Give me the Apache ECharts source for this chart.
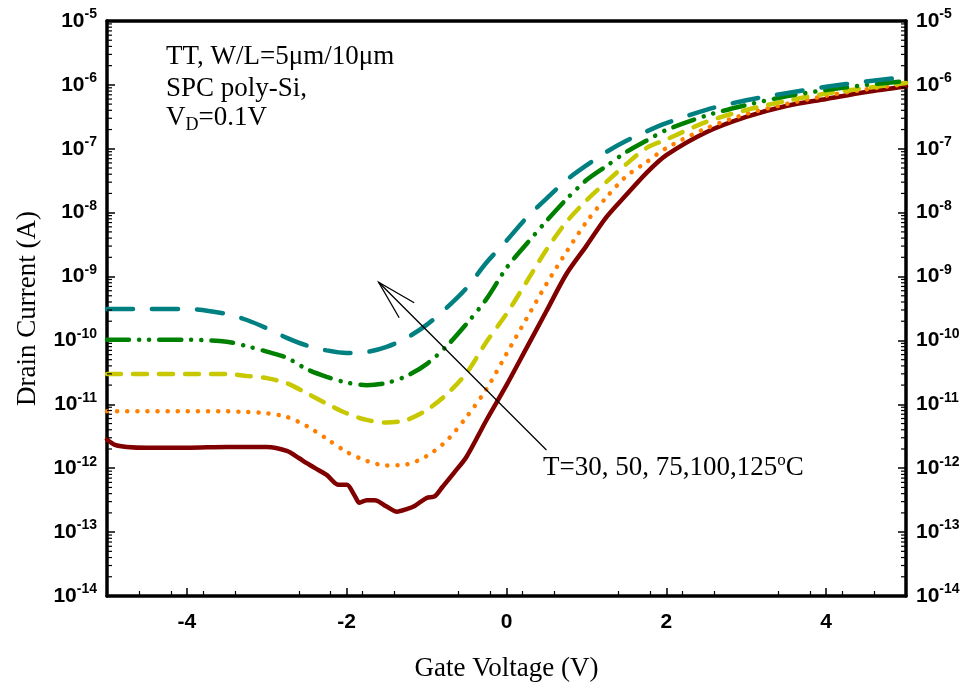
<!DOCTYPE html>
<html>
<head>
<meta charset="utf-8">
<script src="https://cdn.jsdelivr.net/npm/echarts@6/dist/echarts.min.js"></script>
<style>html,body{margin:0;padding:0;background:#fff;}#c{width:971px;height:688px;}</style>
</head>
<body>
<div id="c"></div>
<script>
// Gate voltage samples (V)
const gateV = [-5,-4.5,-4,-3.5,-3.25,-3,-2.75,-2.5,-2.25,-2,-1.75,-1.5,-1.25,-1,-0.75,-0.5,-0.25,0,0.25,0.5,0.75,1,1.25,1.5,1.75,2,2.5,3,3.5,4,4.5,5];
// log10 of drain current (A)
const log10I_125 = [-9.507,-9.507,-9.507,-9.585,-9.68,-9.81,-9.96,-10.08,-10.156,-10.196,-10.18,-10.10,-9.96,-9.757,-9.49,-9.18,-8.78,-8.44,-8.08,-7.78,-7.49,-7.26,-7.05,-6.875,-6.73,-6.60,-6.39,-6.24,-6.13,-6.03,-5.947,-5.876];
const log10I_100 = [-9.99,-9.99,-9.99,-10.02,-10.09,-10.175,-10.27,-10.45,-10.57,-10.66,-10.70,-10.665,-10.556,-10.37,-10.09,-9.74,-9.35,-8.865,-8.49,-8.13,-7.79,-7.49,-7.27,-7.05,-6.875,-6.706,-6.48,-6.315,-6.18,-6.08,-6.00,-5.94];
const log10I_75 = [-10.524,-10.524,-10.524,-10.524,-10.556,-10.59,-10.67,-10.826,-10.99,-11.14,-11.244,-11.286,-11.244,-11.09,-10.845,-10.51,-10.02,-9.585,-9.085,-8.58,-8.146,-7.81,-7.52,-7.24,-6.99,-6.855,-6.58,-6.393,-6.252,-6.135,-6.05,-5.97];
const log10I_50 = [-11.11,-11.11,-11.11,-11.11,-11.12,-11.14,-11.197,-11.34,-11.54,-11.745,-11.886,-11.956,-11.94,-11.81,-11.57,-11.197,-10.76,-10.21,-9.66,-9.116,-8.615,-8.146,-7.76,-7.43,-7.21,-6.99,-6.68,-6.455,-6.30,-6.17,-6.07,-5.986];
// 30 C curve has its own (denser) gate voltage samples
const gateV_30 = [-5,-4.9,-4.75,-4.5,-4,-3.5,-3,-2.75,-2.6,-2.5,-2.4,-2.25,-2.1,-2.0,-1.9,-1.84,-1.75,-1.65,-1.5,-1.37,-1.25,-1.15,-1.0,-0.9,-0.8,-0.65,-0.5,-0.25,0,0.25,0.5,0.75,1,1.25,1.5,1.75,2,2.5,3,3.5,4,4.5,5];
const log10I_30 = [-11.55,-11.635,-11.667,-11.68,-11.68,-11.667,-11.667,-11.73,-11.84,-11.92,-11.995,-12.105,-12.26,-12.26,-12.43,-12.54,-12.50,-12.50,-12.60,-12.68,-12.64,-12.59,-12.465,-12.44,-12.29,-12.06,-11.82,-11.245,-10.70,-10.12,-9.54,-8.96,-8.52,-8.07,-7.72,-7.38,-7.10,-6.74,-6.50,-6.33,-6.22,-6.11,-6.025];

const xTicks = [-4, -2, 0, 2, 4];
const yMinExp = -14, yMaxExp = -5;
// annotation arrow (data coordinates): tail -> head
const arrowTail = [0.50, -11.714];
const arrowHead = [-1.60, -9.089];

const serif = '"Liberation Serif","Times New Roman",serif';
const sans = '"Liberation Sans",Arial,sans-serif';

function pts(xs, ls) { return xs.map((x, i) => [x, Math.pow(10, ls[i])]); }

// minor log ticks at 2..9 within each decade
const minorVals = [];
for (let e = yMinExp; e < yMaxExp; e++) for (let k = 2; k <= 9; k++) minorVals.push([-5, k * Math.pow(10, e)]);

const expLabel = v => {
  const e = Math.round(Math.log10(v));
  return '{b|10}{e|' + e + '}';
};
const labelRich = {
  b: { fontFamily: sans, fontWeight: 'bold', fontSize: 21, color: '#000' },
  e: { fontFamily: sans, fontWeight: 'bold', fontSize: 14, color: '#000', padding: [0, 0, 13, 0] }
};

const chart = echarts.init(document.getElementById('c'), null, { renderer: 'canvas' });

const base = { type: 'line', symbol: 'none', smooth: 0.3, z: 3 };
const option = {
  animation: false,
  backgroundColor: '#fff',
  grid: { left: 107, right: 65, top: 21, bottom: 92 },
  xAxis: [{
    type: 'value', min: -5, max: 5, interval: 2,
    name: 'Gate Voltage (V)', nameLocation: 'middle', nameGap: 59,
    nameTextStyle: { fontFamily: serif, fontSize: 27, color: '#000' },
    axisLine: { show: true, onZero: false, lineStyle: { color: '#000', width: 3.5 } },
    axisTick: { show: true, inside: true, length: 8, lineStyle: { color: '#000', width: 1.5 }, customValues: xTicks },
    minorTick: { show: true, splitNumber: 5, length: 5, lineStyle: { color: '#000', width: 1.2 } },
    axisLabel: { margin: 16, fontFamily: sans, fontWeight: 'bold', fontSize: 21, color: '#000', customValues: xTicks },
    splitLine: { show: false }, minorSplitLine: { show: false }
  }, {
    type: 'value', min: -5, max: 5, position: 'top',
    axisLine: { show: true, onZero: false, lineStyle: { color: '#000', width: 3.5 } },
    axisTick: { show: false }, axisLabel: { show: false }, splitLine: { show: false }
  }],
  yAxis: [{
    type: 'log', logBase: 10, min: Math.pow(10, yMinExp), max: Math.pow(10, yMaxExp), splitNumber: 9,
    name: 'Drain Current (A)', nameLocation: 'middle', nameGap: 66, nameRotate: 90,
    nameTextStyle: { fontFamily: serif, fontSize: 27, color: '#000' },
    axisLine: { show: true, onZero: false, lineStyle: { color: '#000', width: 3.5 } },
    axisTick: { show: true, inside: true, length: 8, lineStyle: { color: '#000', width: 1.5 } },
    axisLabel: { margin: 10, formatter: expLabel, rich: labelRich },
    splitLine: { show: false }
  }, {
    type: 'log', logBase: 10, min: Math.pow(10, yMinExp), max: Math.pow(10, yMaxExp), splitNumber: 9, position: 'right',
    axisLine: { show: true, onZero: false, lineStyle: { color: '#000', width: 3.5 } },
    axisTick: { show: true, inside: true, length: 8, lineStyle: { color: '#000', width: 1.5 } },
    axisLabel: { margin: 10, formatter: expLabel, rich: labelRich },
    splitLine: { show: false }
  }],
  series: [
    Object.assign({}, base, { name: '30', data: pts(gateV_30, log10I_30), lineStyle: { color: '#800000', width: 4.5, cap: 'round', join: 'round' } }),
    Object.assign({}, base, { name: '50', data: pts(gateV, log10I_50), lineStyle: { color: '#ff8000', width: 4.5, type: [0.1, 10], cap: 'round' } }),
    Object.assign({}, base, { name: '75', data: pts(gateV, log10I_75), lineStyle: { color: '#c8c800', width: 4.5, type: [14, 12], cap: 'round' } }),
    Object.assign({}, base, { name: '100', data: pts(gateV, log10I_100), lineStyle: { color: '#008000', width: 4.5, type: [22, 10, 0.1, 10, 0.1, 10], cap: 'round' } }),
    Object.assign({}, base, { name: '125', data: pts(gateV, log10I_125), lineStyle: { color: '#008080', width: 4.5, type: [26, 19], cap: 'round' } }),
    {
      type: 'custom', silent: true, clip: false, z: 5,
      data: minorVals,
      encode: { x: 0, y: 1 },
      renderItem: function (params, api) {
        const v = api.value(1);
        const pl = api.coord([-5, v]);
        const pr = api.coord([5, v]);
        return {
          type: 'group', children: [
            { type: 'line', shape: { x1: pl[0], y1: pl[1], x2: pl[0] + 5, y2: pl[1] }, style: { stroke: '#000', lineWidth: 1.2 } },
            { type: 'line', shape: { x1: pr[0], y1: pr[1], x2: pr[0] - 5, y2: pr[1] }, style: { stroke: '#000', lineWidth: 1.2 } }
          ]
        };
      }
    }
  ]
};
chart.setOption(option);

// annotation graphics
const h = chart.convertToPixel({ gridIndex: 0 }, [arrowHead[0], Math.pow(10, arrowHead[1])]);
const t = chart.convertToPixel({ gridIndex: 0 }, [arrowTail[0], Math.pow(10, arrowTail[1])]);
const dx = t[0] - h[0], dy = t[1] - h[1];
const L = Math.sqrt(dx * dx + dy * dy);
const ux = dx / L, uy = dy / L;
const barb = 41, ang = 15 * Math.PI / 180;
function rot(a) { return [h[0] + barb * (ux * Math.cos(a) - uy * Math.sin(a)), h[1] + barb * (ux * Math.sin(a) + uy * Math.cos(a))]; }
const b1 = rot(ang), b2 = rot(-ang);

const txt = { fontFamily: serif, fontSize: 27, color: '#000' };
chart.setOption({
  graphic: [
    { type: 'line', shape: { x1: t[0], y1: t[1], x2: h[0], y2: h[1] }, style: { stroke: '#000', lineWidth: 1.3 }, z: 10 },
    { type: 'polyline', shape: { points: [b1, h, b2] }, style: { stroke: '#000', lineWidth: 1.3, fill: null }, z: 10 },
    { type: 'text', x: 166, y: 57, style: { text: 'TT, W/L=5\u03bcm/10\u03bcm', font: '27px ' + serif, fill: '#000', verticalAlign: 'middle' }, z: 10 },
    { type: 'text', x: 166, y: 89, style: { text: 'SPC poly-Si,', font: '27px ' + serif, fill: '#000', verticalAlign: 'middle' }, z: 10 },
    { type: 'text', x: 166, y: 118, style: { text: '{a|V}{s|D}{a|=0.1V}', verticalAlign: 'middle', rich: { a: txt, s: { fontFamily: serif, fontSize: 18, color: '#000', padding: [14, 0, 0, 0] } } }, z: 10 },
    { type: 'text', x: 543, y: 468, style: { text: '{a|T=30, 50, 75,100,125}{o|o}{a|C}', verticalAlign: 'middle', rich: { a: txt, o: { fontFamily: serif, fontSize: 17, color: '#000', padding: [0, 0, 14, 0] } } }, z: 10 }
  ]
});
</script>
</body>
</html>
